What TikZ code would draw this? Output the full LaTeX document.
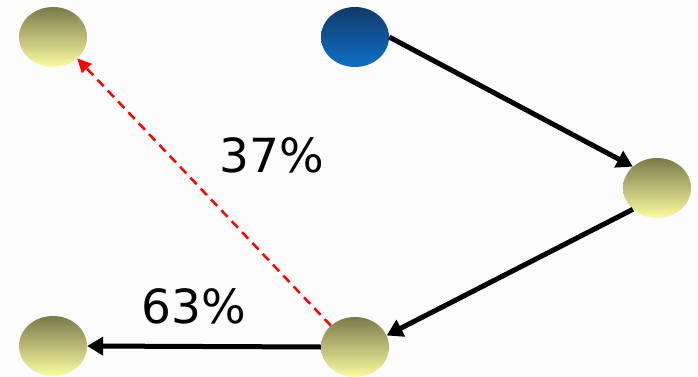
\documentclass[tikz,border=0pt]{standalone}
\usepackage{fontspec}
\setmainfont{DejaVu Sans}
\usetikzlibrary{shapes.geometric,arrows.meta}
\definecolor{oliveTop}{RGB}{122,122,76}
\definecolor{oliveBot}{RGB}{252,252,160}
\definecolor{blueTop}{RGB}{18,58,105}
\definecolor{blueBot}{RGB}{14,112,200}
\definecolor{bgGray}{RGB}{252,252,252}
\tikzset{
  ball/.style={ellipse, minimum width=68pt, minimum height=60pt, inner sep=0pt, draw=none, top color=oliveTop, bottom color=oliveBot},
  blueball/.style={ball, top color=blueTop, bottom color=blueBot},
  flow/.style={line width=5pt, -{Triangle[length=16pt,width=18pt]}},
  back/.style={red, line width=2.5pt, dash pattern=on 9pt off 6pt, -{Triangle[length=14pt,width=13pt]}},
  pct/.style={font=\fontsize{47}{50}\selectfont, inner sep=0pt}
}
\begin{document}
\begin{tikzpicture}[x=1pt,y=-1pt]
\useasboundingbox[fill=bgGray] (0,0) rectangle (698,377);
\node[ball] (tl) at (53,37) {};
\node[blueball] (src) at (355,37) {};
\node[ball] (r) at (657,188) {};
\node[ball] (bm) at (355,347) {};
\node[ball] (bl) at (53,346) {};
\draw[flow] (src.east) -- (r.north west);
\draw[flow] (r.south west) -- (bm.20);
\draw[flow] (bm.west) -- (bl.east);
\draw[back] (bm.north west) -- (tl.south east);
\node[pct] (p37) at (272,155) {37\%};
\node[pct] (p63) at (194,306) {63\%};
\end{tikzpicture}
\end{document}
